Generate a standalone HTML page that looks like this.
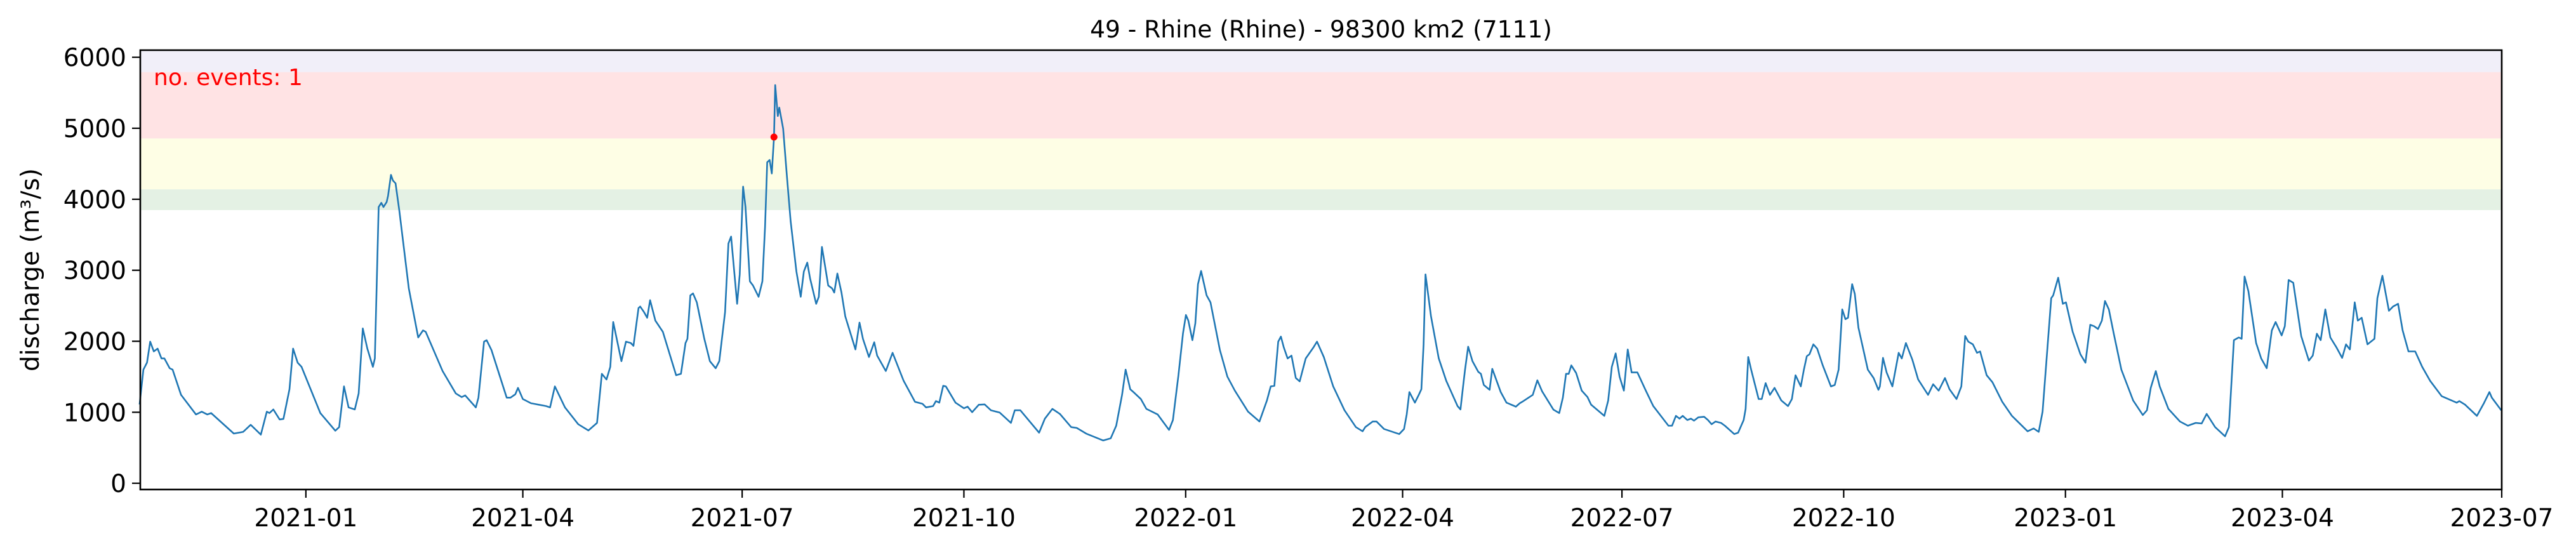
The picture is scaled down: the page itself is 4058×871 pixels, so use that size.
<!DOCTYPE html>
<html><head><meta charset="utf-8"><title>Rhine discharge</title>
<style>
html,body{margin:0;padding:0;background:#fff;}
svg{display:block;font-family:"DejaVu Sans","Liberation Sans",sans-serif;}
</style></head>
<body>
<svg id="chart" width="4058" height="871" viewBox="0 0 4058 871" xmlns="http://www.w3.org/2000/svg">
<rect x="0" y="0" width="4058" height="871" fill="#fff"/>
<g id="bands"></g>
<g id="series"></g>
<g id="axes"></g>
</svg>
<script>
// ---- data ----
const startDate = "2020-10-24";
const dayOffsets = [0,1.6,3.1,4.4,5.9,7.5,9.1,10.3,12.5,13.7,17.2,23.4,25.8,28.1,29.7,39.1,43.0,46.1,50.3,52.8,53.9,55.5,58.1,59.7,62.2,63.7,65.6,67.2,75.0,81.2,82.8,84.8,86.7,89.3,90.9,92.6,94.5,96.8,97.6,99.2,100.3,101.2,102.5,103.1,104.3,105.1,106.2,107.8,111.7,115.6,117.6,118.7,125.7,131.2,133.6,135.1,139.5,140.6,142.9,144.0,146.0,152.3,153.9,155.9,157.0,159.0,162.4,168.7,170.3,172.3,176.5,182.0,186.2,189.8,191.8,193.7,195.3,196.5,199.9,201.8,203.8,204.9,207.0,207.7,209.3,210.6,211.8,214.0,217.1,222.6,224.6,226.5,227.3,228.5,229.6,231.2,234.3,236.6,239.0,240.5,242.9,
244.3,245.4,247.9,249.0,250.4,251.4,253.2,254.5,256.8,258.4,259.5,260.4,261.4,262.3,263.2,263.7,264.8,265.4,267.0,268.6,270.1,272.5,274.3,275.6,277.0,278.2,280.7,281.8,283.1,284.2,285.7,287.3,288.2,289.5,291.2,292.8,297.0,298.7,300.1,302.6,304.8,306.0,309.6,312.4,317.0,321.7,324.8,326.3,329.2,330.4,331.8,333.4,334.5,338.5,342.0,343.5,345.4,348.2,350.6,353.2,356.8,361.5,363.1,365.4,373.2,375.6,378.7,381.8,386.5,388.8,392.7,399.8,402.9,405.2,407.6,409.1,411.0,412.6,415.4,417.7,422.4,427.1,428.7,431.0,432.9,434.1,435.1,436.8,438.0,439.1,440.4,442.7,444.3,448.2,451.3,454.4,459.9,464.6,467.7,469.3,470.8,472.4,473.5,474.7,476.3,477.9,479.7,481.3,483.8,486.9,
488.5,491.3,495.2,499.9,504.6,507.4,508.5,511.6,513.2,516.3,522.6,524.6,525.7,526.8,529.1,530.7,531.8,532.7,533.5,535.8,539.0,542.1,546.8,548.0,549.1,549.9,551.2,553.0,555.4,556.5,557.7,560.1,561.2,564.7,567.1,571.0,572.6,574.1,578.0,579.9,581.9,586.6,589.0,590.5,591.8,592.9,594.0,596.0,598.3,600.7,602.2,607.7,609.3,610.8,612.4,614.0,615.8,617.4,619.0,621.4,624.9,628.0,634.3,635.8,637.4,638.9,640.2,642.1,643.6,644.9,646.7,649.1,650.7,652.2,653.8,656.1,657.7,661.6,663.2,665.5,666.3,667.4,668.6,671.7,673.0,674.6,676.4,678.3,681.1,683.9,685.5,687.0,689.2,690.5,691.7,692.8,694.4,696.0,698.3,701.7,703.3,704.9,706.4,707.7,708.8,710.5,711.6,713.1,717.0,719.4,721.4,722.0,723.3,724.8,727.2,
729.8,731.1,732.8,735.5,737.9,742.0,744.1,746.4,749.0,750.9,753.8,755.8,757.4,758.7,760.6,762.3,763.6,766.3,768.7,772.8,776.8,783.3,785.8,787.9,789.5,793.1,793.9,796.0,797.9,799.2,802.0,805.2,807.3,809.3,810.9,812.5,814.1,815.4,817.0,819.0,822.2,827.1,831.1,832.8,834.4,836.5,838.1,841.7,846.5,849.8,853.0,855.5,857.6,861.1,865.2,866.8,868.9,870.9,872.1,873.3,874.9,878.1,880.2,882.5,884.6,886.2,888.7,890.0,891.6,893.5,896.8,900.0,901.6,903.3,904.9,906.8,908.9,911.4,913.8,915.4,917.0,919.0,920.3,921.9,924.3,927.2,928.4,930.5,933.2,934.9,937.0,938.9,941.3,944.1,947.0,950.3,955.1,961.3,962.4,964.8,969.7,972.6,974.9,975.9,979.8];
const discharge = [1110,1600,1700,1995,1857,1896,1758,1758,1620,1600,1245,969,1008,969,989,700,724,823,685,1008,989,1040,898,906,1324,1896,1699,1640,989,740,791,1364,1068,1040,1265,2181,1896,1640,1758,3890,3949,3890,3961,4048,4344,4265,4225,3830,2745,2054,2153,2133,1581,1265,1214,1237,1068,1206,1995,2015,1877,1206,1206,1253,1344,1186,1127,1087,1068,1364,1068,831,744,850,1541,1462,1640,2271,1719,1995,1975,1936,2469,2489,2410,2331,2579,2291,2133,1522,1541,1975,2035,2646,2674,2548,2035,1719,1620,1719,2410,
3377,3475,2528,2942,4178,3890,2844,2785,2627,2844,3613,4521,4553,4363,4876,5607,5172,5291,4995,4304,3692,2982,2627,2982,3108,2883,2528,2627,3329,3100,2785,2745,2686,2954,2686,2350,1885,2263,2035,1778,1987,1798,1581,1837,1443,1147,1119,1068,1087,1158,1135,1372,1364,1135,1056,1079,1001,1107,1111,1028,997,850,1028,1028,712,910,1048,977,791,779,700,602,633,811,1245,1600,1324,1277,1186,1048,969,752,890,1522,2113,2370,2291,2015,2252,2804,2990,2646,2548,1877,1502,1304,1008,870,1166,1364,1372,1995,2066,1916,1758,1798,1482,1435,1758,1908,
1995,1778,1364,1028,791,732,791,870,870,764,693,764,969,1285,1135,1245,1324,1956,2942,2350,1758,1443,1087,1040,1364,1600,1924,1719,1569,1541,1384,1316,1612,1285,1135,1079,1127,1158,1245,1450,1293,1036,989,1206,1541,1541,1660,1553,1304,1214,1107,949,1166,1640,1829,1502,1304,1885,1561,1561,1304,1087,811,811,949,910,949,890,910,882,929,937,890,831,870,850,811,693,712,890,1048,1778,1600,1186,1186,1411,1245,1344,1166,1087,1186,1522,1364,1600,1790,1817,1956,1896,1660,1364,1384,1600,2449,2311,2331,2804,2666,2192,1600,1482,1316,1364,1766,1561,1364,
1837,1758,1975,1739,1462,1245,1395,1304,1482,1324,1186,1364,2074,1995,1956,1837,1857,1522,1423,1147,949,732,772,724,1008,2607,2646,2895,2528,2548,2133,1817,1699,2232,2212,2173,2291,2567,2449,2113,1600,1166,961,1028,1344,1581,1364,1048,870,811,850,842,977,791,661,791,2015,2054,2035,2911,2706,1975,1758,1620,2153,2271,2082,2212,2863,2824,2074,1727,1798,2106,2015,2449,2054,1916,1766,1956,1885,2548,2291,2331,1956,2035,2607,2923,2429,2489,2528,2153,1857,1857,1640,1443,1226,1135,1158,1107,949,1127,1285,1206,1028];
const eventDays = [263.2];
const eventValues = [4876];
const bandNames = ["band-very-high","band-high","band-medium","band-low"];
const bandLower = [5790,4855,4140,3848];
const bandUpper = [6200,5790,4855,4140];
const bandColors = ["#f1eff9","#ffe3e4","#fefee5","#e4f1e4"];
const yTicks = [0,1000,2000,3000,4000,5000,6000];
const xTickLabels = ["2021-01","2021-04","2021-07","2021-10","2022-01","2022-04","2022-07","2022-10","2023-01","2023-04","2023-07"];
const title = "49 - Rhine (Rhine) - 98300 km2 (7111)";

// ---- layout ----
const L=221,R=3941,T=79,B=771;
const DAY=86400000;
const endMs=Date.UTC(2023,6,1);
const startMs=endMs-979.7*DAY;
const baseMs=Date.parse(startDate+"T00:00:00Z");
const yMin=-88,yMax=6100;
function xScaleMs(ms){return L+(ms-startMs)/(endMs-startMs)*(R-L);}
function xDay(d){return xScaleMs(baseMs+d*DAY);}
function yScale(v){return B-(v-yMin)/(yMax-yMin)*(B-T);}
const NS="http://www.w3.org/2000/svg";
function mk(tag,attrs,parent){const e=document.createElementNS(NS,tag);for(const k in attrs)e.setAttribute(k,attrs[k]);parent.appendChild(e);return e;}
const svg=document.getElementById('chart');
const gB=document.getElementById('bands'),gS=document.getElementById('series'),gA=document.getElementById('axes');

// bands
for(let i=0;i<bandLower.length;i++){
  const y1=Math.max(T,yScale(bandUpper[i])),y2=yScale(bandLower[i]);
  const r=mk('rect',{x:L,y:y1,width:R-L,height:y2-y1,fill:bandColors[i]},gB);
  
  
}
// line
let d="";
for(let i=0;i<dayOffsets.length;i++){d+=(i?"L":"M")+xDay(dayOffsets[i]).toFixed(1)+","+yScale(discharge[i]).toFixed(1);}
const line=mk('path',{d:d,fill:"none",stroke:"#1f77b4","stroke-width":2.6,"stroke-linejoin":"round"},gS);


for(let i=0;i<eventDays.length;i++){
  const c=mk('circle',{cx:xDay(eventDays[i]),cy:yScale(eventValues[i]),r:5.5,fill:"#ff0000"},gS);
  
  
}
// frame
const fr=mk('rect',{x:L,y:T,width:R-L,height:B-T,fill:"none",stroke:"#000","stroke-width":2.6},gA);


// y ticks
for(const v of yTicks){
  const y=yScale(v);
  const t=mk('line',{x1:L-13,x2:L,y1:y,y2:y,stroke:"#000","stroke-width":2.2},gA);
  
  
  const lb=mk('text',{x:L-22,y:y+14,"text-anchor":"end","font-size":39,fill:"#000"},gA);
  lb.textContent=v;
  
  
}
// x ticks
for(const s of xTickLabels){
  const [yy,mm]=s.split("-").map(Number);
  const x=xScaleMs(Date.UTC(yy,mm-1,1));
  const t=mk('line',{x1:x,x2:x,y1:B,y2:B+13,stroke:"#000","stroke-width":2.2},gA);
  
  
  const lb=mk('text',{x:x,y:829,"text-anchor":"middle","font-size":39,fill:"#000"},gA);
  lb.textContent=s;
  
  
}
// y label
const yl=mk('text',{x:0,y:0,"text-anchor":"middle","font-size":39,fill:"#000",transform:"translate(61,"+((T+B)/2)+") rotate(-90)"},gA);
yl.textContent="discharge (m\u00b3/s)";


// title
const tt=mk('text',{x:(L+R)/2,y:59,"text-anchor":"middle","font-size":37.5,fill:"#000"},gA);
tt.textContent=title;


// events annotation
const ev=mk('text',{x:242,y:134,"font-size":36,fill:"#ff0000"},gA);
ev.textContent="no. events: 1";


</script>
</body></html>
